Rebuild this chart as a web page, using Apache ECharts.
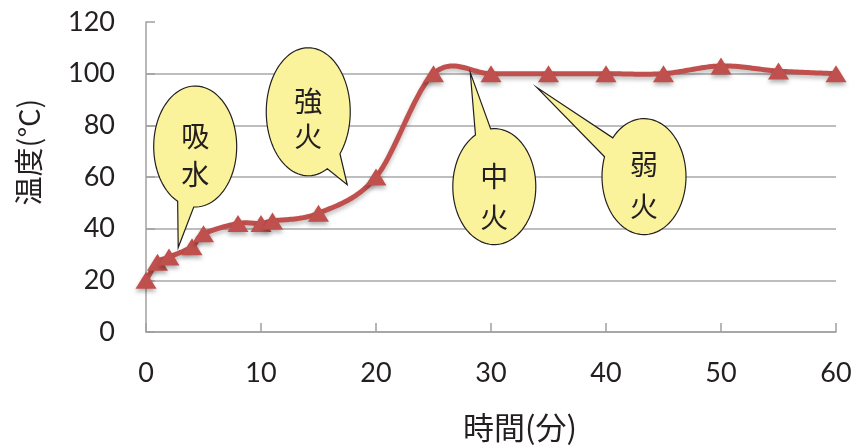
<!DOCTYPE html>
<html><head><meta charset="utf-8">
<script src="https://cdn.jsdelivr.net/npm/echarts@6/dist/echarts.min.js"></script>
<style>html,body{margin:0;padding:0;background:#fff}#c{width:866px;height:448px}</style>
</head><body><div id="c"></div>
<script>
// Data
const times = [0, 1, 2, 4, 5, 8, 10, 11, 15, 20, 25, 30, 35, 40, 45, 50, 55, 60];
const temps = [20, 27, 29, 33, 38, 42, 42, 43, 46, 60, 100, 100, 100, 100, 100, 103, 101, 100];
const xTicks = [0, 10, 20, 30, 40, 50, 60];
const yTicks = [0, 20, 40, 60, 80, 100, 120];
const xName = '時間(分)';
const yName = '温度(°C)';
// Callouts: text lines, tail tip anchored at data coords
const calloutTexts = [['吸', '水'], ['強', '火'], ['中', '火'], ['弱', '火']];
const calloutTips = [[2.8, 32.7], [17.5, 57], [28.2, 100.4], [34, 94.6]];

const CJK = '"Noto Sans CJK JP","Noto Sans CJK SC",sans-serif';
const NUM = 'Lato,"Open Sans",sans-serif';
const RED = '#c0504d';
const chart = echarts.init(document.getElementById('c'), null, {renderer: 'canvas'});

function splineRender(params, api) {
  if (params.dataIndex !== 0) return null;
  const n = times.length;
  const P = times.map((t, i) => api.coord([t, temps[i]]));
  const pts = [P[0]];
  for (let i = 0; i < n - 1; i++) {
    const p0 = P[Math.max(i - 1, 0)], p1 = P[i], p2 = P[i + 1], p3 = P[Math.min(i + 2, n - 1)];
    const c1 = [p1[0] + (p2[0] - p0[0]) / 6, p1[1] + (p2[1] - p0[1]) / 6];
    const c2 = [p2[0] - (p3[0] - p1[0]) / 6, p2[1] - (p3[1] - p1[1]) / 6];
    const steps = 24;
    for (let s = 1; s <= steps; s++) {
      const t = s / steps, u = 1 - t;
      pts.push([
        u * u * u * p1[0] + 3 * u * u * t * c1[0] + 3 * u * t * t * c2[0] + t * t * t * p2[0],
        u * u * u * p1[1] + 3 * u * u * t * c1[1] + 3 * u * t * t * c2[1] + t * t * t * p2[1]
      ]);
    }
  }
  return {
    type: 'polyline', shape: {points: pts},
    style: {fill: null, stroke: RED, lineWidth: 5, lineJoin: 'round', lineCap: 'round',
      shadowColor: 'rgba(0,0,0,0.25)', shadowBlur: 4, shadowOffsetY: 3}
  };
}

const seriesData = times.map((t, i) => [t, temps[i]]);
chart.setOption({
  animation: false,
  backgroundColor: '#fff',
  grid: {left: 146, right: 30, top: 22, bottom: 114, containLabel: false},
  xAxis: {
    type: 'value', min: xTicks[0], max: xTicks[xTicks.length - 1], interval: 10,
    name: xName, nameLocation: 'middle', nameGap: 80,
    nameTextStyle: {fontFamily: CJK, fontSize: 31, color: '#231f20', padding: [0, 0, 0, 58]},
    axisLine: {show: true, lineStyle: {color: '#a0a0a0', width: 1.5}},
    axisTick: {show: true, inside: true, length: 9, lineStyle: {color: '#a0a0a0', width: 1.5}},
    axisLabel: {fontFamily: NUM, fontSize: 27, color: '#231f20', margin: 28},
    splitLine: {show: false}
  },
  yAxis: {
    type: 'value', min: yTicks[0], max: yTicks[yTicks.length - 1], interval: 20,
    name: yName, nameLocation: 'middle', nameGap: 103, nameRotate: 90,
    nameTextStyle: {fontFamily: CJK, fontSize: 29, color: '#231f20', padding: [0, 0, 0, 50]},
    axisLine: {show: true, lineStyle: {color: '#a0a0a0', width: 1.5}},
    axisTick: {show: true, inside: true, length: 9, lineStyle: {color: '#a0a0a0', width: 1.5}},
    axisLabel: {fontFamily: NUM, fontSize: 27, color: '#231f20', margin: 31},
    splitLine: {show: true, showMaxLine: false, lineStyle: {color: '#a8a8a8', width: 1.5}}
  },
  series: [{
    type: 'custom',
    renderItem: splineRender,
    data: seriesData,
    clip: false,
    z: 2
  }, {
    type: 'scatter',
    data: seriesData,
    symbol: 'triangle',
    symbolSize: [21, 17],
    itemStyle: {color: RED, opacity: 1, shadowColor: 'rgba(0,0,0,0.3)', shadowBlur: 4, shadowOffsetY: 3},
    z: 3
  }]
});

// Callout geometry (pixels relative to tip): ellipse centre offset, radii, base angles (deg), text offsets
const calloutGeom = [
  {dx: 17, dy: -101, rx: 41.5, ry: 60.5, a1: 92, a2: 115, t1: -10, t2: 28},
  {dx: -39, dy: -73, rx: 42, ry: 64, a1: 41, a2: 63, t1: -10, t2: 25},
  {dx: 24, dy: 114, rx: 41.5, ry: 58, a1: 243, a2: 265, t1: -10, t2: 31},
  {dx: 107, dy: 89, rx: 42, ry: 58, a1: 200, a2: 222, t1: -12, t2: 30}
];
const els = [];
calloutTips.forEach((tip, k) => {
  const p = chart.convertToPixel({gridIndex: 0}, tip);
  const g = calloutGeom[k];
  const cx = p[0] + g.dx, cy = p[1] + g.dy;
  const pts = [];
  const steps = 90;
  for (let i = 0; i <= steps; i++) {
    const a = (g.a2 + (g.a1 + 360 - g.a2) * i / steps) * Math.PI / 180;
    pts.push([cx + g.rx * Math.cos(a), cy + g.ry * Math.sin(a)]);
  }
  pts.push([p[0], p[1]]);
  els.push({type: 'polygon', shape: {points: pts}, style: {fill: '#fbf39b', stroke: '#231f20', lineWidth: 1.2}, z: 10});
  const [c1, c2] = calloutTexts[k];
  els.push({type: 'text', x: cx, y: cy + g.t1, style: {text: c1, font: '28px ' + CJK, fill: '#231f20', align: 'center', verticalAlign: 'middle'}, z: 11});
  els.push({type: 'text', x: cx, y: cy + g.t2, style: {text: c2, font: '28px ' + CJK, fill: '#231f20', align: 'center', verticalAlign: 'middle'}, z: 11});
});
chart.setOption({graphic: {elements: els}});
</script></body></html>
